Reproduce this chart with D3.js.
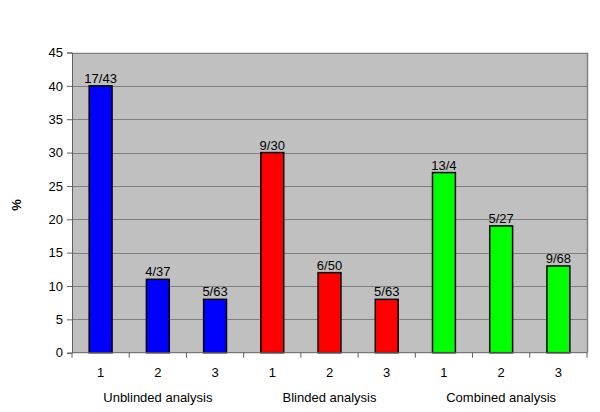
<!DOCTYPE html>
<html><head><meta charset="utf-8">
<script src="https://cdn.jsdelivr.net/npm/d3@7"></script>
<style>body{margin:0;background:#fff}text{font-family:"Liberation Sans",Arial,sans-serif}</style>
</head><body><svg id="c" width="600" height="412"></svg>
<script>
const groups = ["Unblinded analysis","Blinded analysis","Combined analysis"];
const subLabels = ["1","2","3"];
const values = [40,11,8,30,12,8,27,19,13];
const barLabels = ["17/43","4/37","5/63","9/30","6/50","5/63","13/4","5/27","9/68"];
const colors = ["#0000ff","#ff0000","#00ff00"];
const yTicks = [0,5,10,15,20,25,30,35,40,45];

const svg = d3.select("#c");
const L=72, R=587, T=52.5, B=352.7;
const idx = d3.range(values.length);
const x = d3.scaleBand().domain(idx).range([L,R]).paddingInner(0.6).paddingOuter(0.3);
const xb = d3.scaleBand().domain(idx).range([L,R]);
const y = d3.scaleLinear().domain([0,45]).range([B,T]);

svg.append("rect").attr("x",L).attr("y",T).attr("width",R-L).attr("height",B-T).attr("fill","#c0c0c0");
svg.append("g").selectAll("line").data(yTicks.filter(d=>d>0)).join("line")
  .attr("x1",L).attr("x2",R).attr("y1",d=>Math.round(y(d))+0.5).attr("y2",d=>Math.round(y(d))+0.5)
  .attr("stroke","#808080").attr("stroke-width",1);
svg.append("line").attr("x1",R+0.5).attr("x2",R+0.5).attr("y1",T).attr("y2",B).attr("stroke","#808080").attr("stroke-width",1.5);

svg.append("g").selectAll("rect").data(idx).join("rect")
  .attr("x",i=>x(i)).attr("width",x.bandwidth())
  .attr("y",i=>y(values[i])).attr("height",i=>B-y(values[i]))
  .attr("fill",i=>colors[Math.floor(i/3)]).attr("stroke","#000").attr("stroke-width",1.5);

svg.append("g").selectAll("text").data(idx).join("text")
  .attr("x",i=>x(i)+x.bandwidth()/2).attr("y",i=>y(values[i])-3)
  .attr("text-anchor","middle").attr("font-size",13).attr("fill","#000")
  .text(i=>barLabels[i]);

const yAxis = svg.append("g").attr("transform",`translate(${L},0)`)
  .call(d3.axisLeft(y).tickValues(yTicks).tickSize(5).tickPadding(4));
yAxis.selectAll("text").attr("font-size",13).attr("fill","#000").style("font-family","Liberation Sans, Arial, sans-serif");
yAxis.selectAll("line").attr("stroke","#606060");
yAxis.select(".domain").attr("stroke","#606060");

const xAxis = svg.append("g").attr("transform",`translate(0,${B})`);
xAxis.append("line").attr("x1",L).attr("x2",R).attr("stroke","#606060");
xAxis.selectAll("line.t").data(d3.range(values.length+1)).join("line").attr("class","t")
  .attr("x1",i=>L+i*xb.bandwidth()).attr("x2",i=>L+i*xb.bandwidth()).attr("y1",0).attr("y2",5).attr("stroke","#606060");
xAxis.selectAll("text.s").data(idx).join("text").attr("class","s")
  .attr("x",i=>xb(i)+xb.bandwidth()/2).attr("y",24).attr("text-anchor","middle").attr("font-size",13)
  .text(i=>subLabels[i%3]);
xAxis.selectAll("text.g").data(groups).join("text").attr("class","g")
  .attr("x",(d,g)=>xb(g*3+1)+xb.bandwidth()/2).attr("y",49).attr("text-anchor","middle").attr("font-size",13)
  .text(d=>d);

svg.append("text").attr("transform","translate(21,205) rotate(-90)").attr("text-anchor","middle")
  .attr("font-size",13).attr("font-weight","bold").text("%");
</script></body></html>
